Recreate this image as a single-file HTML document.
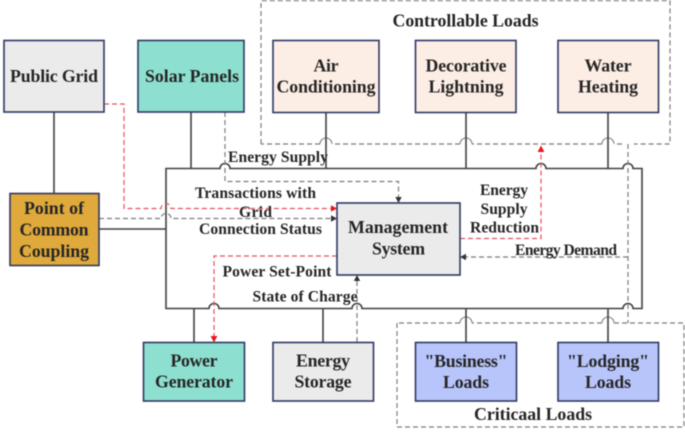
<!DOCTYPE html>
<html>
<head>
<meta charset="utf-8">
<style>
html,body{margin:0;padding:0;background:#fff;width:685px;height:432px;overflow:hidden}
svg{display:block;filter:blur(0.4px)}
text{font-family:"Liberation Serif",serif;font-weight:bold;fill:#262626;text-anchor:middle}
.b{font-size:17.8px}
.l{font-size:15.6px}
.box{stroke:#2e3865;stroke-width:1.6}
.s{fill:none;stroke:#404040;stroke-width:1.6}
.g{fill:none;stroke:#7d7d7d;stroke-width:1.2;stroke-dasharray:5 3}
.r{fill:none;stroke:#e8525f;stroke-width:1.2;stroke-dasharray:5 3}
</style>
</head>
<body>
<svg width="685" height="432" viewBox="0 0 685 432" xmlns="http://www.w3.org/2000/svg">
<!-- group dashed frames -->
<path class="g" d="M261 144V0.7H670V144H634M622 144H614M602 144H472M460 144H332M320 144H261"/>
<path class="g" d="M397 323V427H684V323H614M602 323H472M460 323H397"/>
<path d="M320 144a6 6 0 0 1 12 0M460 144a6 6 0 0 1 12 0M602 144a6 6 0 0 1 12 0M460 323a6 6 0 0 1 12 0M602 323a6 6 0 0 1 12 0" style="fill:none;stroke:#777;stroke-width:1"/>

<!-- solid connections -->
<path class="s" d="M54 112V193M191 112V168.5M99 229H166M326 112V168.5M466 112V168.5M608 112V168.5M194 308.5V342M323 308.5V342M466 308.5V342M608 308.5V342"/>
<!-- bus -->
<path class="s" d="M166 308.5V168.5H220a5 5 0 0 1 10 0H536a5 5 0 0 1 10 0H623a5 5 0 0 1 10 0H642V308.5H633a5 5 0 0 0-10 0H362a5 5 0 0 0-10 0H219a5 5 0 0 0-10 0H166Z"/>

<!-- dashed signals -->
<path class="g" d="M225 112V181.5H398.5V197"/>
<path d="M395.3 197H401.7L398.5 203Z" fill="#333"/>
<path class="g" d="M99 218.5H161a5 5 0 0 1 10 0H331"/>
<path d="M331 215.3V221.7L337 218.5Z" fill="#333"/>
<path class="r" d="M104 104H124V208.5H161a5 5 0 0 1 10 0H331"/>
<path d="M331 205.2V211.8L337 208.5Z" fill="#e8141e"/>
<path class="r" d="M460 238.5H541V152"/>
<path d="M537.6 152H544.4L541 145.5Z" fill="#e8141e"/>
<path class="g" d="M628 144V323"/>
<path class="g" d="M628 257H466"/>
<path d="M466 253.8V260.2L460 257Z" fill="#333"/>
<path class="r" d="M337 256H214V336"/>
<path d="M210.6 336H217.4L214 342.5Z" fill="#e8141e"/>
<path class="g" d="M357 342V281"/>
<path d="M353.8 281H360.2L357 275Z" fill="#333"/>

<!-- boxes -->
<rect class="box" x="4" y="40.5" width="100" height="71.5" fill="#ebebeb"/>
<rect class="box" x="138" y="40.5" width="106" height="71.5" fill="#8de0d0"/>
<rect class="box" x="10" y="193.5" width="89" height="72" fill="#e0a93b"/>
<rect class="box" x="273" y="40.5" width="106" height="72" fill="#fdeee5"/>
<rect class="box" x="415.5" y="40.5" width="100.5" height="72" fill="#fdeee5"/>
<rect class="box" x="558" y="40.5" width="100.5" height="72" fill="#fdeee5"/>
<rect class="box" x="337" y="203" width="123" height="72" fill="#ebebeb"/>
<rect class="box" x="143.5" y="342.5" width="101" height="58.5" fill="#8de0d0"/>
<rect class="box" x="273" y="342.5" width="100.5" height="58.5" fill="#ebebeb"/>
<rect class="box" x="415.5" y="342.5" width="101" height="58.5" fill="#b8c5fb"/>
<rect class="box" x="558" y="342.5" width="100.5" height="58.5" fill="#b8c5fb"/>

<!-- box text -->
<text class="b" x="54" y="82" textLength="88">Public Grid</text>
<text class="b" x="192" y="82" textLength="94">Solar Panels</text>
<text class="b" x="54" y="214" textLength="60">Point of</text>
<text class="b" x="54" y="235.5" textLength="69">Common</text>
<text class="b" x="54" y="257" textLength="70">Coupling</text>
<text class="b" x="326" y="71.5" textLength="25">Air</text>
<text class="b" x="326" y="92.5" textLength="99">Conditioning</text>
<text class="b" x="466" y="71.5" textLength="81">Decorative</text>
<text class="b" x="466" y="92.5" textLength="75">Lightning</text>
<text class="b" x="608" y="71.5" textLength="47">Water</text>
<text class="b" x="608" y="92.5" textLength="60">Heating</text>
<text class="b" x="398" y="233" textLength="100">Management</text>
<text class="b" x="398.5" y="254.5" textLength="53">System</text>
<text class="b" x="194" y="366.5" textLength="47">Power</text>
<text class="b" x="194" y="387.5" textLength="78">Generator</text>
<text class="b" x="323" y="366.5" textLength="54">Energy</text>
<text class="b" x="323" y="387.5" textLength="57">Storage</text>
<text class="b" x="466" y="367" textLength="83">"Business"</text>
<text class="b" x="466" y="388" textLength="46">Loads</text>
<text class="b" x="608" y="367" textLength="82">"Lodging"</text>
<text class="b" x="608" y="388" textLength="46">Loads</text>
<text class="b" x="465.5" y="26.5" textLength="146">Controllable Loads</text>
<text class="b" x="533" y="420" textLength="118">Criticaal Loads</text>

<!-- labels -->
<text class="l" x="278" y="162" textLength="100">Energy Supply</text>
<text class="l" x="255.5" y="198" textLength="121">Transactions with</text>
<text class="l" x="255.5" y="217" textLength="33">Grid</text>
<text class="l" x="260.5" y="234" textLength="123">Connection Status</text>
<text class="l" x="277" y="276.5" textLength="109">Power Set-Point</text>
<text class="l" x="305" y="301.5" textLength="105">State of Charge</text>
<text class="l" x="504" y="195" textLength="48">Energy</text>
<text class="l" x="504" y="214" textLength="47">Supply</text>
<text class="l" x="504.5" y="232.5" textLength="69">Reduction</text>
<text class="l" x="566" y="255" textLength="102">Energy Demand</text>
</svg>
</body>
</html>
